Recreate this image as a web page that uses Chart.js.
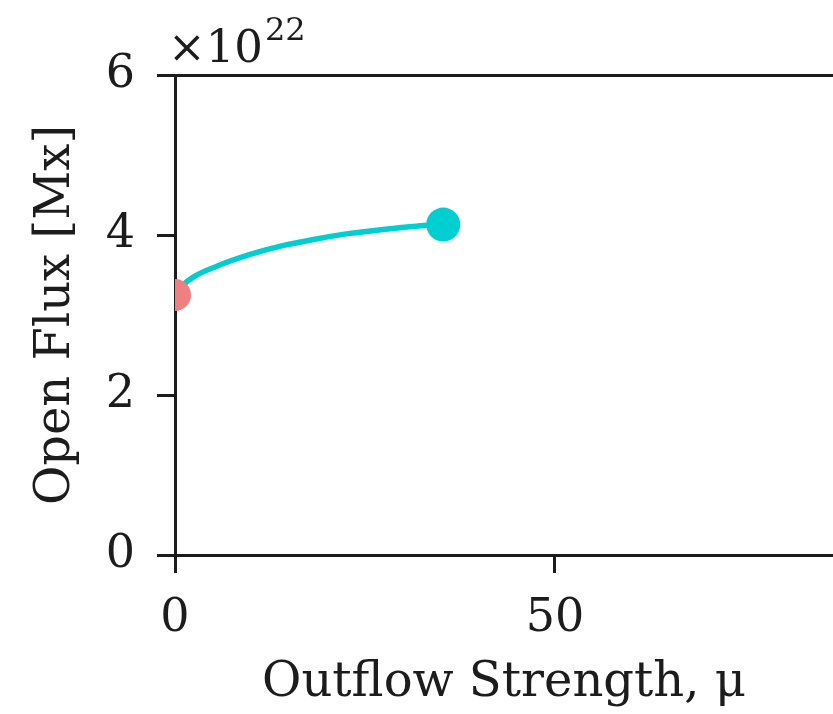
<!DOCTYPE html>
<html>
<head>
<meta charset="utf-8">
<script src="https://cdn.jsdelivr.net/npm/chart.js@4/dist/chart.umd.min.js"></script>
<style>
  html, body { margin: 0; padding: 0; background: #fff; overflow: hidden; }
  #wrap { width: 833px; height: 714px; position: relative; }
  canvas { display: block; }
</style>
</head>
<body>
<div id="wrap"><canvas id="chart"></canvas></div>
<script>
// values (flux in units of 1e22 Mx)
const curveMu   = [0, 1, 2.5, 5.5, 10, 14.3, 18.6, 23, 27.4, 31.8, 35.3];
const curveFlux = [3.25, 3.37, 3.48, 3.61, 3.76, 3.87, 3.95, 4.02, 4.07, 4.11, 4.13];
const startPoint = [0, 3.25];
const endPoint = [35.3, 4.13];
const xTicks = [0, 50];
const yTicks = [0, 2, 4, 6];

const ink = '#1c1c1c';
const serif = 'DejaVu Serif';

// the "x10^22" multiplier above the y axis
const multiplier = {
  id: 'multiplier',
  afterDraw(chart) {
    const ctx = chart.ctx;
    ctx.save();
    ctx.fillStyle = ink;
    ctx.textBaseline = 'alphabetic';
    ctx.font = '45px "' + serif + '"';
    ctx.fillText('\u00d710', 168, 62);
    const w = ctx.measureText('\u00d710').width;
    ctx.font = '32px "' + serif + '"';
    ctx.fillText('22', 168 + w + 2, 40);
    ctx.restore();
  }
};

new Chart(document.getElementById('chart'), {
  type: 'scatter',
  data: {
    datasets: [
      {
        label: 'start',
        data: [{ x: startPoint[0], y: startPoint[1] }],
        pointRadius: 16,
        pointBackgroundColor: '#f08080',
        pointBorderWidth: 0,
        clip: 0
      },
      {
        label: 'end',
        data: [{ x: endPoint[0], y: endPoint[1] }],
        pointRadius: 17,
        pointBackgroundColor: '#00ced1',
        pointBorderWidth: 0,
        clip: 0
      },
      {
        label: 'curve',
        data: curveMu.map((m, i) => ({ x: m, y: curveFlux[i] })),
        showLine: true,
        borderColor: '#00ced1',
        borderWidth: 5.5,
        pointRadius: 0,
        cubicInterpolationMode: 'monotone',
        clip: 0
      }
    ]
  },
  options: {
    responsive: true,
    maintainAspectRatio: false,
    animation: false,
    layout: { autoPadding: false, padding: { top: 75, left: 0, right: 0, bottom: 0 } },
    plugins: {
      legend: { display: false },
      tooltip: { enabled: false }
    },
    scales: {
      x: {
        type: 'linear',
        min: 0,
        max: 86.6,
        afterBuildTicks: s => { s.ticks = xTicks.map(v => ({ value: v })) },
        afterFit: s => { s.height = 159 },
        grid: { drawOnChartArea: false, tickLength: 18, tickWidth: 3, tickColor: ink },
        border: { width: 3, color: ink },
        ticks: { color: ink, padding: 18, font: { family: serif, size: 46 }, maxRotation: 0 },
        title: {
          display: true,
          text: 'Outflow Strength, \u03bc',
          color: ink,
          font: { family: serif, size: 48 },
          padding: { top: 0, bottom: 2 }
        }
      },
      xTop: {
        type: 'linear',
        position: 'top',
        min: 0,
        max: 86.6,
        afterFit: s => { s.height = 0 },
        grid: { drawOnChartArea: false, drawTicks: false },
        border: { width: 3, color: ink },
        ticks: { display: false }
      },
      y: {
        min: 0,
        max: 6,
        z: 1,
        afterBuildTicks: s => { s.ticks = yTicks.map(v => ({ value: v })) },
        afterFit: s => { s.width = 175 },
        grid: { drawOnChartArea: false, tickLength: 18, tickWidth: 3, tickColor: ink },
        border: { width: 3, color: ink },
        ticks: { color: ink, padding: 22, font: { family: serif, size: 46 } },
        title: {
          display: true,
          text: 'Open Flux [Mx]',
          color: ink,
          font: { family: serif, size: 48 },
          padding: { top: 28, bottom: 0 }
        }
      }
    }
  },
  plugins: [multiplier]
});
</script>
</body>
</html>
